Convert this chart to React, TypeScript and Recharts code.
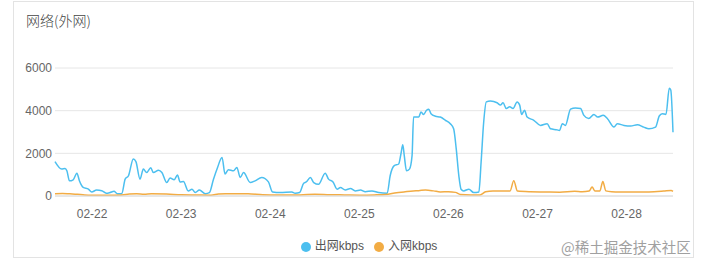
import React from 'react';
import { LineChart, Line, XAxis, YAxis, CartesianGrid, Legend } from 'recharts';

// time is hours since 02-21 00:00
const outHours = [
  14, 15.8, 16.7, 17.2, 17.9, 18.9, 19.9, 20.6, 21.6, 23, 23.9, 25.2, 26.6, 27.8, 28.8, 29.9, 30.8, 32,
  32.9, 33.8, 35.1, 35.8, 36.9, 37.8, 38.7, 39.8, 40.5, 41.9, 42.8, 44.1, 45, 46.1, 47, 47.7, 48.6,
  49.9, 50.9, 51.8, 52.9, 54.5, 55.6, 56.7, 57.8, 59, 59.8, 60.7, 62.1, 63, 63.9, 64.8, 66.6, 67.9,
  69.7, 71.5, 72.6, 74.7, 77.8, 78.7, 79.9, 81, 81.7, 82.8, 83.7, 85, 86.8, 87.7, 88.9, 90, 90.9,
  92.2, 93.6, 94.9, 96.3, 97.6, 99.4, 101.2, 103.5, 104.3, 105.4, 106.6, 107.2, 107.7, 108.1, 108.7,
  109.5, 110.2, 110.6, 112, 112.6, 113.3, 114.1, 114.7, 115.3, 116.5, 117.8, 119.2, 120.5, 121.4,
  122.1, 122.8, 123.4, 124.1, 125.5, 126.8, 128.2, 128.8, 129.5, 130.2, 131.3, 133.1, 134, 134.7,
  135.6, 136.5, 137.4, 138.5, 139.2, 139.7, 140.5, 141.2, 143, 144.8, 146.6, 147.5, 149.3, 149.9,
  150.7, 151.5, 152.9, 154.2, 155.6, 156.5, 157.8, 159.2, 160.2, 161.7, 162.8, 164.6, 165.5, 167.3,
  169.1, 170.9, 172.6, 174, 175.8, 176.8, 177.6, 178.6, 179.5, 179.9, 180.5,
];
const outKbps = [
  1610, 1260, 1290, 1180, 710, 760, 1070, 700, 400, 320, 190, 280, 250, 130, 160, 220, 110, 110,
  790, 950, 1735, 1610, 790, 1260, 1100, 1320, 1100, 1210, 1100, 630, 840, 760, 980, 660, 680,
  240, 320, 160, 280, 110, 160, 790, 1340, 1810, 1030, 1230, 1180, 1340, 870, 1100, 630, 710,
  870, 660, 190, 160, 190, 130, 160, 600, 660, 870, 630, 550, 1070, 790, 660, 320, 400,
  280, 350, 240, 280, 200, 240, 160, 130, 950, 1420, 1500, 1970, 2400, 1890, 1180,
  1260, 1890, 3700, 3700, 3940, 3820, 4020, 4070, 3860, 3740, 3700, 3550, 3390, 3150,
  2210, 950, 320, 240, 320, 160, 190, 1580, 3470, 4410, 4450, 4370, 4260, 4370,
  4100, 4180, 4100, 4410, 4260, 3820, 4020, 3700, 3550, 3310, 3390, 3150, 3100, 3070,
  3390, 3310, 4070, 4130, 4100, 3780, 3630, 3820, 3700, 3780, 3630, 3230, 3390, 3310,
  3280, 3340, 3230, 3150, 3230, 3750, 3860, 3820, 5050, 4970, 2990,
];

const inHours = [
  14, 16, 18, 20, 22, 24, 28, 32, 34, 36, 38, 40, 44, 48, 52, 56, 58, 60, 64, 66, 70, 74, 80, 84,
  88, 92, 96, 100, 103, 106, 108, 110.5, 112, 113.8, 116, 117.8, 120, 121.9, 123.2, 126, 128.5,
  130, 132, 134, 136.6, 137.6, 138.6, 142, 146, 150, 154, 156, 157.9, 158.7, 159.5, 160.8, 161.6,
  162.4, 164, 166, 170, 174, 178, 180, 180.5,
];
const inKbps = [
  110, 120, 100, 80, 50, 40, 40, 50, 90, 100, 80, 100, 90, 60, 50, 40, 90, 110, 100, 110, 60, 50,
  50, 80, 60, 50, 40, 50, 70, 150, 190, 240, 250, 280, 240, 190, 200, 170, 70, 50, 50,
  200, 240, 230, 240, 710, 230, 200, 190, 180, 220, 200, 230, 420, 230, 240, 680,
  240, 200, 190, 190, 190, 230, 260, 220,
];

const dayTicks = [24, 48, 72, 96, 120, 144, 168];
const dayLabels = ['02-22', '02-23', '02-24', '02-25', '02-26', '02-27', '02-28'];
const valueTicks = [0, 2000, 4000, 6000];

const outData = outHours.map((t, i) => ({ t, v: outKbps[i] }));
const inData = inHours.map((t, i) => ({ t, v: inKbps[i] }));

const font = '"Liberation Sans", Arial, "Noto Sans CJK SC", sans-serif';

const App: React.FC = () => {
  return (
    <div style={{ position: 'absolute', left: 0, top: 0, width: 704, height: 266, background: '#fff', fontFamily: font }}>
      <div style={{ position: 'absolute', left: 13, top: 1, width: 681, height: 257, border: '1px solid #e3e3e3', boxSizing: 'border-box' }} />
      <div style={{ position: 'absolute', left: 26, top: 10, fontSize: 14, color: '#444', fontFamily: '"Noto Sans CJK SC", sans-serif', fontWeight: 300 }}>
        网络(外网)
      </div>
      <div style={{ position: 'absolute', left: 0, top: 0 }}>
        <LineChart width={704} height={266} margin={{ top: 68, right: 31, bottom: 23, left: 0 }}>
          <CartesianGrid vertical={false} stroke="#e6e6e6" />
          <XAxis
            type="number"
            dataKey="t"
            domain={[14, 180.5]}
            ticks={dayTicks}
            tickFormatter={(t: number) => dayLabels[dayTicks.indexOf(t)]}
            tickLine={false}
            tickSize={0}
            tickMargin={13}
            axisLine={{ stroke: '#dcdcdc' }}
            tick={{ fill: '#666', fontSize: 12 }}
            height={30}
            allowDuplicatedCategory={false}
          />
          <YAxis
            width={55}
            domain={[0, 6000]}
            ticks={valueTicks}
            tickLine={false}
            axisLine={false}
            tickSize={0}
            tickMargin={3}
            tick={{ fill: '#666', fontSize: 12 }}
          />
          <Legend
            verticalAlign="bottom"
            iconType="circle"
            iconSize={10}
            itemSorter={null}
            wrapperStyle={{ fontSize: 12, left: 22, width: 704, bottom: 13 }}
            formatter={(value: string) => <span style={{ color: '#555' }}>{value}</span>}
          />
          <Line
            data={outData}
            dataKey="v"
            name="出网kbps"
            type="monotone"
            stroke="#4cbfef"
            strokeWidth={1.5}
            dot={false}
            isAnimationActive={false}
          />
          <Line
            data={inData}
            dataKey="v"
            name="入网kbps"
            type="monotone"
            stroke="#f2ac44"
            strokeWidth={1.5}
            dot={false}
            isAnimationActive={false}
          />
        </LineChart>
      </div>
      <div style={{ position: 'absolute', left: 561, top: 236, fontSize: 14.5, color: '#a0a0a0', fontFamily: '"Noto Sans CJK SC", sans-serif' }}>
        @稀土掘金技术社区
      </div>
    </div>
  );
};

export default App;
